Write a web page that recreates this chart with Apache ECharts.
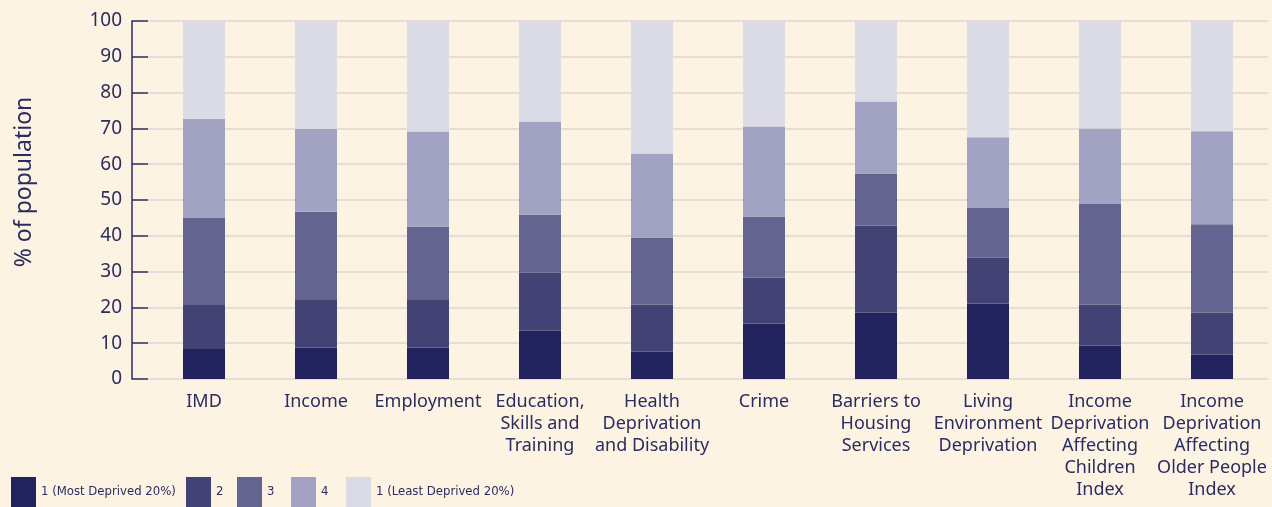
<!DOCTYPE html>
<html>
<head>
<meta charset="utf-8">
<style>
  html, body { margin: 0; padding: 0; background: #fdf3e3; }
  #chart { width: 1272px; height: 507px; }
</style>
<script src="https://cdn.jsdelivr.net/npm/echarts@6/dist/echarts.min.js"></script>
</head>
<body>
<div id="chart"></div>
<script>
// domains of deprivation
var categories = ['IMD', 'Income', 'Employment', 'Education,\nSkills and\nTraining',
    'Health\nDeprivation\nand Disability', 'Crime', 'Barriers to\nHousing\nServices',
    'Living\nEnvironment\nDeprivation', 'Income\nDeprivation\nAffecting\nChildren\nIndex',
    'Income\nDeprivation\nAffecting\nOlder People\nIndex'];

// % of population in each quintile
var q1 = [8.4, 8.8, 8.8, 13.5, 7.6, 15.5, 18.5, 21.1, 9.3, 6.8];
var q2 = [12.3, 13.3, 13.3, 16.2, 13.2, 12.8, 24.4, 12.8, 11.5, 11.7];
var q3 = [24.4, 24.6, 20.4, 16.2, 18.7, 17.1, 14.5, 14.0, 28.2, 24.7];
var q4 = [27.6, 23.2, 26.6, 26.0, 23.5, 25.1, 20.1, 19.6, 21.0, 26.0];
var q5 = [27.3, 30.1, 30.9, 28.1, 37.0, 29.5, 22.5, 32.5, 30.0, 30.8];

var seriesNames = ['1 (Most Deprived 20%)', '2', '3', '4', '1 (Least Deprived 20%)'];
var colors = ['#22235e', '#424374', '#63648f', '#a2a3c2', '#dbdbe8'];
var yTicks = [0, 10, 20, 30, 40, 50, 60, 70, 80, 90, 100];

var navy = '#2b2c5f';
var font = 'Noto Sans';

// legend entries sit at fixed spots along the bottom
var legendLeft = [11, 186, 237, 291, 346];

function bar(name, data) {
    return {
        name: name,
        type: 'bar',
        stack: 'pop',
        barWidth: 42,
        data: data
    };
}

var legends = seriesNames.map(function (name, i) {
    return {
        left: legendLeft[i],
        top: 477,
        padding: 0,
        icon: 'rect',
        itemWidth: 25,
        itemHeight: 30,
        itemStyle: { borderWidth: 0 },
        textStyle: { fontFamily: 'DejaVu Sans Condensed', fontSize: 13, color: navy, padding: [5, 0, 0, 0] },
        data: [name]
    };
});

var option = {
    backgroundColor: '#fdf3e3',
    color: colors,
    textStyle: { fontFamily: font, color: navy },
    animation: false,
    legend: legends,
    grid: {
        left: 148,
        right: 4,
        top: 21,
        bottom: 128
    },
    xAxis: {
        type: 'category',
        data: categories,
        axisLine: { show: false },
        axisTick: { show: false },
        axisLabel: {
            interval: 0,
            fontSize: 18,
            lineHeight: 22,
            color: navy,
            margin: 12
        }
    },
    yAxis: {
        type: 'value',
        min: 0,
        max: 100,
        interval: 10,
        offset: 16,
        name: '% of population',
        nameLocation: 'middle',
        nameGap: 96,
        nameTextStyle: { fontSize: 23, color: navy, padding: [0, 0, 0, 36] },
        axisLine: { show: true, lineStyle: { color: navy, width: 1.5 } },
        axisTick: { show: true, inside: true, length: 16, lineStyle: { color: navy, width: 1.5 } },
        axisLabel: {
            fontSize: 19,
            color: navy,
            margin: 10,
            formatter: function (v) { return yTicks.indexOf(v) >= 0 ? String(v) : ''; }
        },
        splitLine: { lineStyle: { color: '#e6dcd8', width: 2 } }
    },
    series: [
        bar(seriesNames[0], q1),
        bar(seriesNames[1], q2),
        bar(seriesNames[2], q3),
        bar(seriesNames[3], q4),
        bar(seriesNames[4], q5)
    ]
};

var myChart = echarts.init(document.getElementById('chart'));
myChart.setOption(option);
</script>
</body>
</html>
